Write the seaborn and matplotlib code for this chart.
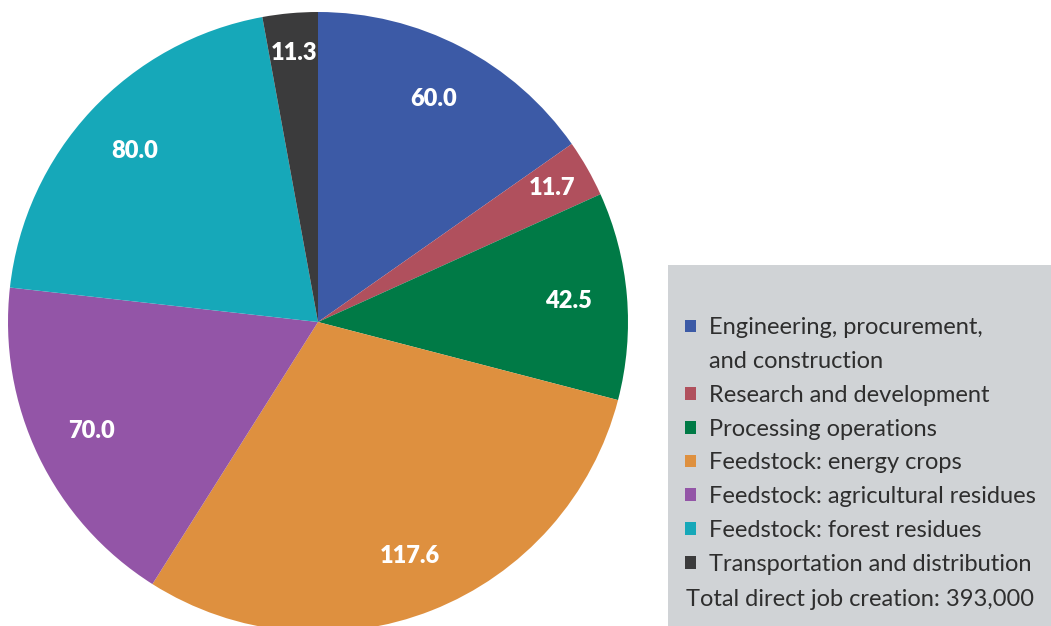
import numpy as np
import seaborn as sns
import matplotlib.pyplot as plt
from matplotlib.patches import Patch, Rectangle

# job creation by segment, thousands of jobs
categories = ['Engineering, procurement,\nand construction', 'Research and development',
              'Processing operations', 'Feedstock: energy crops',
              'Feedstock: agricultural residues', 'Feedstock: forest residues',
              'Transportation and distribution']
jobs = [60.0, 11.7, 42.5, 117.6, 70.0, 80.0, 11.3]
colors = ['#3C5AA6', '#B0505D', '#007A46', '#DE903F', '#9355A7', '#16A8B9', '#3B3B3C']
total_text = 'Total direct job creation: 393,000'

sns.set_theme(style='white')
plt.rcParams['font.family'] = ['Lato', 'DejaVu Sans']

fig = plt.figure(figsize=(10.51, 6.26), dpi=100)
# square axes holding the pie, centre (318, 322) px, radius 310 px
ax = fig.add_axes([8 / 1051, -6 / 626, 620 / 1051, 620 / 626])
wedges, _ = ax.pie(jobs, colors=colors, startangle=90, counterclock=False,
                   radius=1, wedgeprops=dict(linewidth=0))
ax.set_xlim(-1, 1)
ax.set_ylim(-1, 1)
ax.set_aspect('equal')
ax.axis('off')

# value labels inside the slices
for w, v in zip(wedges, jobs):
    ang = np.deg2rad((w.theta1 + w.theta2) / 2)
    r = 0.87 if v < 20 else 0.81
    ax.text(r * np.cos(ang), r * np.sin(ang), f'{v:.1f}', color='white',
            fontsize=17, fontweight='heavy', ha='center', va='center')

# grey legend panel
fig.patches.append(Rectangle((668 / 1051, 0), 383 / 1051, 361 / 626,
                             transform=fig.transFigure, facecolor='#D0D3D6',
                             edgecolor='none', zorder=0))

# wrapped labels become extra rows with a blank marker so the square stays on line one
handles, labels = [], []
for c, lab in zip(colors, categories):
    for i, part in enumerate(lab.split('\n')):
        handles.append(Patch(facecolor=c if i == 0 else 'none', edgecolor='none'))
        labels.append(part)

leg = fig.legend(handles, labels, loc='upper left',
                 bbox_to_anchor=(676 / 1051, 1 - 308 / 626), frameon=False,
                 fontsize=17, handlelength=0.45, handleheight=0.45,
                 handletextpad=0.55, labelspacing=0.54, borderaxespad=0)
for t in leg.get_texts():
    t.set_color('#2E2E2E')
fig.text(686 / 1051, 1 - 600 / 626, total_text, fontsize=17, color='#2E2E2E',
         ha='left', va='center')

fig.savefig('out.png', dpi=100, facecolor='white')
